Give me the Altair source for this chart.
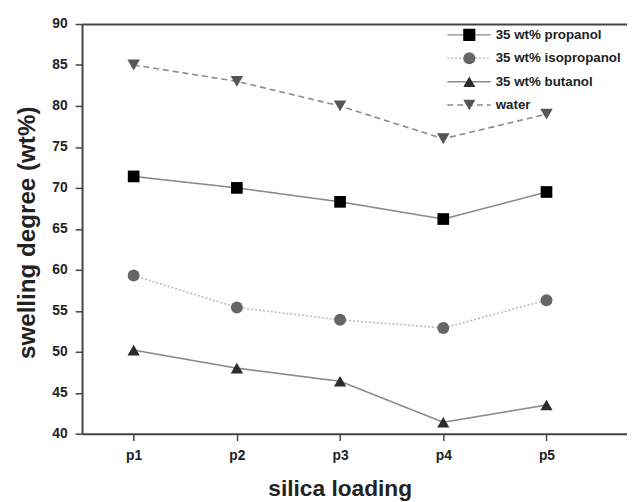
import json
import altair as alt
import pandas as pd

# ---- data ----
loadings = ["p1", "p2", "p3", "p4", "p5"]
series_names = ["35 wt% propanol", "35 wt% isopropanol", "35 wt% butanol", "water"]
propanol = [71.4, 70.0, 68.3, 66.2, 69.5]
isopropanol = [59.3, 55.4, 53.9, 52.9, 56.3]
butanol = [50.2, 48.0, 46.4, 41.4, 43.5]
water = [85.0, 83.0, 80.0, 76.0, 79.0]
y_ticks = [40, 45, 50, 55, 60, 65, 70, 75, 80, 85, 90]

# ---- styles ----
line_colors = ["#8a8a8a", "#bdbdbd", "#8a8a8a", "#8a8a8a"]
line_dashes = [[1, 0], [2, 2], [1, 0], [6, 4]]
marker_shapes = ["square", "circle", "triangle-up", "triangle-down"]
marker_fills = ["#000000", "#666666", "#2b2b2b", "#555555"]
marker_sizes = [140, 160, 210, 210]

FONT = "Liberation Sans"
TXT = "#222222"
AX = "#444444"

rows = []
for name, vals in zip(series_names, [propanol, isopropanol, butanol, water]):
    for cat, v in zip(loadings, vals):
        rows.append({"series": name, "loading": cat, "value": v})
df = pd.DataFrame(rows)

idx_expr = "indexof(" + json.dumps(loadings) + ", datum.loading) + 1"
label_expr = json.dumps(loadings) + "[datum.value - 1]"

x_scale = alt.Scale(domain=[0.5, 5.78], nice=False, zero=False)
y_scale = alt.Scale(domain=[40, 90], nice=False, zero=False)

y_enc = alt.Y(
    "value:Q",
    scale=y_scale,
    axis=alt.Axis(
        values=y_ticks, title="swelling degree (wt%)", grid=False,
        domainColor=AX, domainWidth=2, tickColor=AX, tickWidth=1.5, tickSize=7,
        labelFont=FONT, labelFontSize=14, labelFontWeight="bold", labelColor=TXT,
        labelPadding=8,
        titleFont=FONT, titleFontSize=24.5, titleFontWeight="bold", titleColor=TXT,
        titleX=-55, titleY=211, titleAngle=-90, titleAlign="center", titleBaseline="middle",
    ),
)

leg_common = dict(
    orient="none", title=None, direction="vertical",
    labelFont=FONT, labelFontSize=13.5, labelFontWeight="bold", labelColor=TXT,
    clipHeight=18, rowPadding=5.7, legendY=2,
)

# line part of each legend key (with the visible labels)
line_legend = alt.Legend(
    legendX=369, symbolType="stroke", symbolSize=1936, symbolStrokeWidth=1.5,
    labelOffset=4, **leg_common,
)
# marker part of each legend key, drawn over the middle of the line (labels hidden)
point_legend = alt.Legend(
    legendX=385.5, symbolSize=150, symbolStrokeWidth=0, symbolOpacity=1,
    symbolFillColor=alt.ExprRef(expr="scale('fill', datum.value)"),
    labelOpacity=0, **leg_common,
)

base = alt.Chart(df).transform_calculate(idx=idx_expr)

lines = base.mark_line(strokeWidth=1.6).encode(
    x=alt.X(
        "idx:Q", scale=x_scale,
        axis=alt.Axis(
            values=[1, 2, 3, 4, 5], labelExpr=label_expr, title="silica loading", grid=False,
            domainColor=AX, domainWidth=2, tickColor=AX, tickWidth=1.5, tickSize=7,
            labelFont=FONT, labelFontSize=14, labelFontWeight="bold", labelColor=TXT,
            labelPadding=8,
            titleFont=FONT, titleFontSize=23, titleFontWeight="bold", titleColor=TXT,
            titleX=261, titleY=56, titleAlign="center", titleBaseline="middle",
        ),
    ),
    y=y_enc,
    stroke=alt.Stroke("series:N", scale=alt.Scale(domain=series_names, range=line_colors), legend=line_legend),
    strokeDash=alt.StrokeDash("series:N", scale=alt.Scale(domain=series_names, range=line_dashes), legend=line_legend),
    order=alt.Order("idx:Q"),
)

points = base.transform_calculate(series_pt="datum.series").mark_point(filled=True, opacity=1).encode(
    x=alt.X(
        "idx:Q", scale=x_scale,
        axis=alt.Axis(orient="top", labels=False, ticks=False, title=None, grid=False,
                      domainColor=AX, domainWidth=2),
    ),
    y=alt.Y("value:Q", scale=y_scale),
    shape=alt.Shape("series_pt:N", sort=series_names, scale=alt.Scale(range=marker_shapes), legend=point_legend),
    fill=alt.Fill("series_pt:N", sort=series_names, scale=alt.Scale(range=marker_fills), legend=None),
    size=alt.Size("series_pt:N", sort=series_names, scale=alt.Scale(range=marker_sizes), legend=None),
)

chart = (
    alt.layer(lines, points)
    .resolve_axis(x="independent")
    .properties(
        width=552, height=415,
        padding={"left": 75, "top": 13, "right": 0, "bottom": 70},
        autosize=alt.AutoSizeParams(type="none"),
        background="white",
    )
    .configure_view(stroke=None)
)

chart.save("out.html", embed_options={"renderer": "svg", "actions": False})
